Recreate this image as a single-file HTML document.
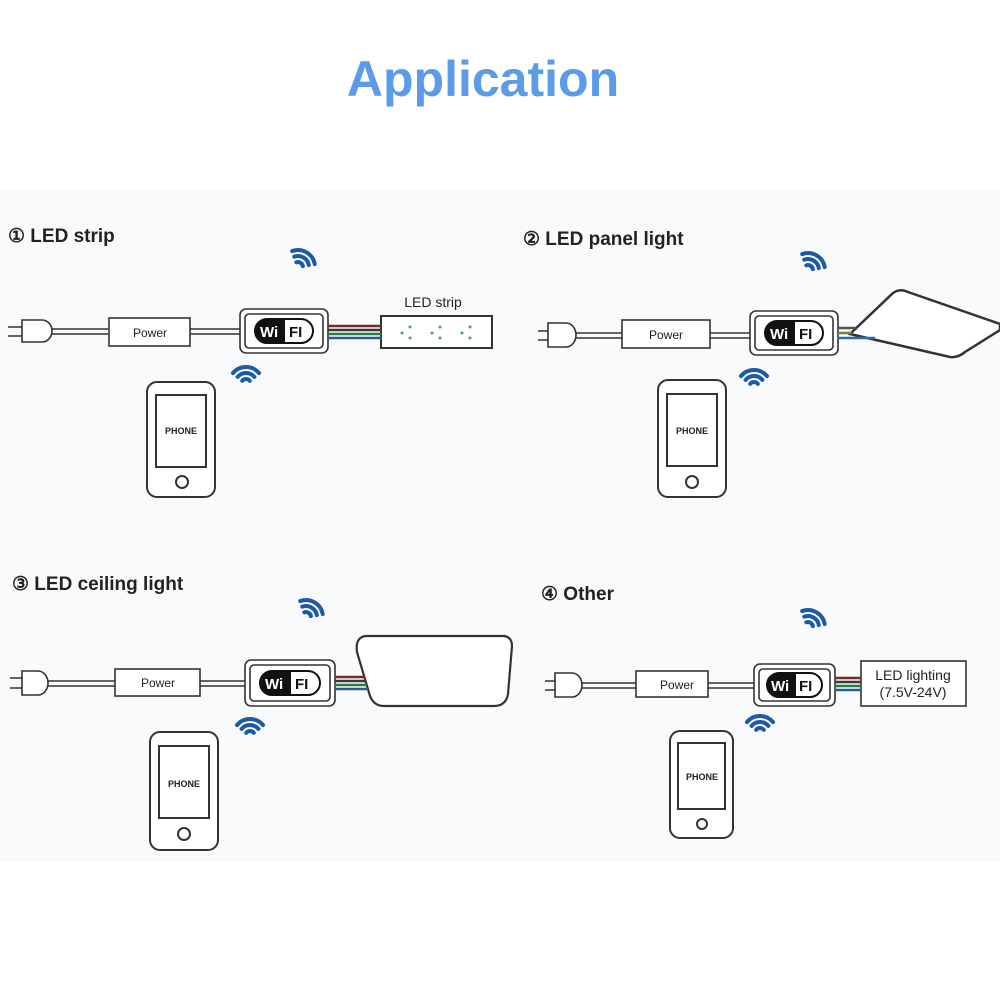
<!DOCTYPE html>
<html><head><meta charset="utf-8"><style>
html,body{margin:0;padding:0;background:#fff}
svg{display:block}
text{font-family:"Liberation Sans",sans-serif}
</style></head><body>
<svg width="1000" height="1000" viewBox="0 0 1000 1000">
<rect x="0" y="0" width="1000" height="1000" fill="#fff"/>
<rect x="0" y="190" width="1000" height="672" fill="#f9fafc"/>
<text x="483" y="96" font-size="50" font-weight="bold" fill="#5b9be8" text-anchor="middle">Application</text>

<g fill="none" stroke="#1d5aa6" stroke-width="4" stroke-linecap="round">
 <g transform="translate(298,267) rotate(30)"><path d="M-3.8,-3.2A5,5 0 0 1 3.8,-3.2M-8.4,-7.1A11,11 0 0 1 8.4,-7.1M-13,-10.9A17,17 0 0 1 13,-10.9"/></g>
 <g transform="translate(246,384)"><path d="M-3.8,-3.2A5,5 0 0 1 3.8,-3.2M-8.4,-7.1A11,11 0 0 1 8.4,-7.1M-13,-10.9A17,17 0 0 1 13,-10.9"/></g>
 <g transform="translate(808,270) rotate(30)"><path d="M-3.8,-3.2A5,5 0 0 1 3.8,-3.2M-8.4,-7.1A11,11 0 0 1 8.4,-7.1M-13,-10.9A17,17 0 0 1 13,-10.9"/></g>
 <g transform="translate(754,387)"><path d="M-3.8,-3.2A5,5 0 0 1 3.8,-3.2M-8.4,-7.1A11,11 0 0 1 8.4,-7.1M-13,-10.9A17,17 0 0 1 13,-10.9"/></g>
 <g transform="translate(306,617) rotate(30)"><path d="M-3.8,-3.2A5,5 0 0 1 3.8,-3.2M-8.4,-7.1A11,11 0 0 1 8.4,-7.1M-13,-10.9A17,17 0 0 1 13,-10.9"/></g>
 <g transform="translate(250,736)"><path d="M-3.8,-3.2A5,5 0 0 1 3.8,-3.2M-8.4,-7.1A11,11 0 0 1 8.4,-7.1M-13,-10.9A17,17 0 0 1 13,-10.9"/></g>
 <g transform="translate(808,627) rotate(30)"><path d="M-3.8,-3.2A5,5 0 0 1 3.8,-3.2M-8.4,-7.1A11,11 0 0 1 8.4,-7.1M-13,-10.9A17,17 0 0 1 13,-10.9"/></g>
 <g transform="translate(760,733)"><path d="M-3.8,-3.2A5,5 0 0 1 3.8,-3.2M-8.4,-7.1A11,11 0 0 1 8.4,-7.1M-13,-10.9A17,17 0 0 1 13,-10.9"/></g>
</g>

<g fill="#222" font-size="19" font-weight="bold">
<text x="8" y="242">① LED strip</text>
<text x="523" y="245">② LED panel light</text>
<text x="12" y="590">③ LED ceiling light</text>
<text x="541" y="600">④ Other</text>
</g>

<g stroke="#333" stroke-width="1.6" fill="#fff">
<path d="M8,327H22M8,336H22" />
<path d="M22,320H42A10,11 0 0 1 42,342H22Z"/>
<path d="M52,329H108M52,334H108" fill="none"/>
<rect x="109" y="318" width="81" height="28"/>
<path d="M190,329H240M190,334H240" fill="none"/>
<rect x="240" y="309" width="88" height="44" rx="6"/>
<rect x="245" y="314" width="78" height="34" rx="4"/>
<rect x="381" y="316" width="111" height="32" stroke-width="2"/>
<path d="M538,331H548M538,340H548"/>
<path d="M548,323H566A10,12 0 0 1 566,347H548Z"/>
<path d="M576,333H622M576,338H622" fill="none"/>
<rect x="622" y="320" width="88" height="28"/>
<path d="M710,333H750M710,338H750" fill="none"/>
<rect x="750" y="311" width="88" height="44" rx="6"/>
<rect x="755" y="316" width="78" height="34" rx="4"/>
<path d="M850,334L893,293Q900,288 908,292L1000,324L1000,330L965,352Q958,358 950,357Z" stroke-width="2.5"/>
<path d="M10,678H22M10,688H22"/>
<path d="M22,671H38A10,12 0 0 1 38,695H22Z"/>
<path d="M48,681H115M48,686H115" fill="none"/>
<rect x="115" y="669" width="85" height="27"/>
<path d="M200,681H245M200,686H245" fill="none"/>
<rect x="245" y="660" width="90" height="46" rx="6"/>
<rect x="250" y="665" width="80" height="36" rx="4"/>
<path d="M366,636H504Q512,637 512,646L508,694Q506,706 494,706H384Q374,706 370,696L357,652Q355,637 366,636Z" stroke-width="2.2"/>
<path d="M545,681H555M545,690H555"/>
<path d="M555,673H572A10,12 0 0 1 572,697H555Z"/>
<path d="M582,683H636M582,688H636" fill="none"/>
<rect x="636" y="671" width="72" height="26"/>
<path d="M708,683H754M708,688H754" fill="none"/>
<rect x="754" y="664" width="81" height="42" rx="6"/>
<rect x="759" y="669" width="71" height="32" rx="4"/>
<rect x="861" y="661" width="105" height="45"/>
</g>

<g stroke-width="2.5">
<path d="M328,326H382" stroke="#7a2a1a"/><path d="M328,330H382" stroke="#3a3a3a"/><path d="M328,334H382" stroke="#2a7a3a"/><path d="M328,338H382" stroke="#2a5a9a"/>
<path d="M838,328L855,328" stroke="#555"/><path d="M838,333L852,333" stroke="#6a8a3a"/><path d="M838,338H875" stroke="#2a6ab0"/>
<path d="M335,677H365" stroke="#7a2a1a"/><path d="M335,681H366" stroke="#3a3a3a"/><path d="M335,685H367" stroke="#2a7a3a"/><path d="M335,689H368" stroke="#2a5a9a"/>
<path d="M835,678H861" stroke="#7a2a1a"/><path d="M835,682H861" stroke="#3a3a3a"/><path d="M835,686H861" stroke="#2a7a3a"/><path d="M835,690H861" stroke="#2a5a9a"/>
</g>

<g font-weight="bold" font-size="15">
<g transform="translate(255,319)"><rect width="58" height="24" rx="12" fill="#fff" stroke="#111" stroke-width="2"/><path d="M12,0H30V24H12A12,12 0 0 1 12,0Z" fill="#111"/><text x="5" y="18" fill="#fff">Wi</text><text x="34" y="18" fill="#111">FI</text></g>
<g transform="translate(765,321)"><rect width="58" height="24" rx="12" fill="#fff" stroke="#111" stroke-width="2"/><path d="M12,0H30V24H12A12,12 0 0 1 12,0Z" fill="#111"/><text x="5" y="18" fill="#fff">Wi</text><text x="34" y="18" fill="#111">FI</text></g>
<g transform="translate(260,671)"><rect width="60" height="24" rx="12" fill="#fff" stroke="#111" stroke-width="2"/><path d="M12,0H31V24H12A12,12 0 0 1 12,0Z" fill="#111"/><text x="5" y="18" fill="#fff">Wi</text><text x="35" y="18" fill="#111">FI</text></g>
<g transform="translate(767,673)"><rect width="55" height="24" rx="12" fill="#fff" stroke="#111" stroke-width="2"/><path d="M12,0H29V24H12A12,12 0 0 1 12,0Z" fill="#111"/><text x="4" y="18" fill="#fff">Wi</text><text x="32" y="18" fill="#111">FI</text></g>
</g>

<g fill="#4a9a8a"><circle cx="402" cy="333" r="1.5"/><circle cx="410" cy="327" r="1.5"/><circle cx="410" cy="338" r="1.5"/><circle cx="432" cy="333" r="1.5"/><circle cx="440" cy="327" r="1.5"/><circle cx="440" cy="338" r="1.5"/><circle cx="462" cy="333" r="1.5"/><circle cx="470" cy="327" r="1.5"/><circle cx="470" cy="338" r="1.5"/></g>

<g fill="#222">
<text x="433" y="307" font-size="14" text-anchor="middle">LED strip</text>
<text x="150" y="337" font-size="12" text-anchor="middle">Power</text>
<text x="666" y="339" font-size="12" text-anchor="middle">Power</text>
<text x="158" y="687" font-size="12" text-anchor="middle">Power</text>
<text x="677" y="689" font-size="12" text-anchor="middle">Power</text>
<text x="913" y="680" font-size="14" text-anchor="middle">LED lighting</text>
<text x="913" y="697" font-size="14" text-anchor="middle">(7.5V-24V)</text>
</g>

<g fill="#fff" stroke="#333" stroke-width="2">
<rect x="147" y="382" width="68" height="115" rx="10"/><rect x="156" y="395" width="50" height="72"/><circle cx="182" cy="482" r="6"/>
<rect x="658" y="380" width="68" height="117" rx="10"/><rect x="667" y="394" width="50" height="72"/><circle cx="692" cy="482" r="6"/>
<rect x="150" y="732" width="68" height="118" rx="10"/><rect x="159" y="746" width="50" height="72"/><circle cx="184" cy="834" r="6"/>
<rect x="670" y="731" width="63" height="107" rx="10"/><rect x="678" y="743" width="47" height="66"/><circle cx="702" cy="824" r="5"/>
</g>
<g fill="#222" font-size="9" font-weight="bold" text-anchor="middle">
<text x="181" y="434">PHONE</text><text x="692" y="434">PHONE</text><text x="184" y="787">PHONE</text><text x="702" y="780">PHONE</text>
</g>
</svg>
</body></html>
